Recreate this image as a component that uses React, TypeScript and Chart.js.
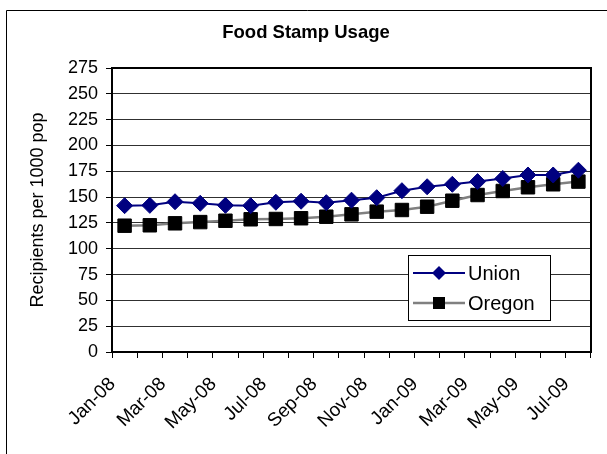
import React, { useEffect, useRef } from 'react';
import { Chart, registerables } from 'chart.js';

Chart.register(...registerables);

const months = [
  'Jan-08', 'Feb-08', 'Mar-08', 'Apr-08', 'May-08', 'Jun-08', 'Jul-08', 'Aug-08', 'Sep-08', 'Oct-08',
  'Nov-08', 'Dec-08', 'Jan-09', 'Feb-09', 'Mar-09', 'Apr-09', 'May-09', 'Jun-09', 'Jul-09',
];
const unionValues = [141.7, 142, 145.5, 144, 142, 141.7, 145, 146, 144.6, 147, 149.4, 156.2, 160, 162.4, 165, 168, 171.4, 171.4, 176];
const oregonValues = [122.3, 122.7, 124.6, 125.8, 127.1, 128.5, 128.8, 129.5, 131, 133.3, 135.9, 137.5, 140.7, 146.5, 152, 155.9, 159.5, 162.4, 165];
const seriesNames = ['Union', 'Oregon'];
const chartTitle = 'Food Stamp Usage';
const yAxisTitle = 'Recipients per 1000 pop';
const yMin = 0;
const yMax = 275;
const yStep = 25;
const labelEvery = 2;

const FONT = "'Liberation Sans', Arial, Helvetica, sans-serif";

function drawMarker(ctx: CanvasRenderingContext2D, style: string, x: number, y: number, r: number, color: string) {
  ctx.save();
  ctx.fillStyle = color;
  ctx.beginPath();
  if (style === 'rectRot') {
    ctx.moveTo(x, y - r);
    ctx.lineTo(x + r, y);
    ctx.lineTo(x, y + r);
    ctx.lineTo(x - r, y);
    ctx.closePath();
  } else {
    ctx.rect(x - r, y - r, 2 * r, 2 * r);
  }
  ctx.fill();
  ctx.restore();
}

export default function App() {
  const ref = useRef<HTMLCanvasElement>(null);

  useEffect(() => {
    const canvas = ref.current;
    if (!canvas) return;

    const decor = {
      id: 'decor',
      beforeDraw(chart: any) {
        const ctx = chart.ctx as CanvasRenderingContext2D;
        ctx.save();
        ctx.fillStyle = '#ffffff';
        ctx.fillRect(0, 0, chart.width, chart.height);
        ctx.strokeStyle = '#000000';
        ctx.lineWidth = 1;
        ctx.beginPath();
        ctx.moveTo(6.5, chart.height + 5);
        ctx.lineTo(6.5, 10.5);
        ctx.lineTo(chart.width + 5, 10.5);
        ctx.stroke();
        ctx.restore();
      },
      afterDraw(chart: any) {
        const ctx = chart.ctx as CanvasRenderingContext2D;
        const ca = chart.chartArea;
        ctx.save();
        // plot-area frame
        ctx.strokeStyle = '#000000';
        ctx.lineWidth = 2;
        ctx.strokeRect(ca.left, ca.top, ca.right - ca.left, ca.bottom - ca.top);
        // legend
        const lx = Math.round(ca.right - 183);
        const ly = Math.round(ca.top + 187);
        const lw = 142;
        const lh = 65;
        ctx.fillStyle = '#ffffff';
        ctx.fillRect(lx, ly, lw, lh);
        ctx.lineWidth = 1;
        ctx.strokeStyle = '#000000';
        ctx.strokeRect(lx + 0.5, ly + 0.5, lw, lh);
        chart.data.datasets.forEach((ds: any, i: number) => {
          const cy = ly + 18 + i * 30;
          ctx.strokeStyle = ds.borderColor;
          ctx.lineWidth = ds.borderWidth;
          ctx.beginPath();
          ctx.moveTo(lx + 5, cy);
          ctx.lineTo(lx + 57, cy);
          ctx.stroke();
          drawMarker(ctx, ds.pointStyle, lx + 31, cy, ds.pointStyle === 'rectRot' ? 7 : 6, ds.pointBackgroundColor);
          ctx.fillStyle = '#000000';
          ctx.font = `20px ${FONT}`;
          ctx.textAlign = 'left';
          ctx.textBaseline = 'middle';
          ctx.fillText(ds.label, lx + 60, cy + 1);
        });
        ctx.restore();
      },
    };

    const chart = new Chart(canvas, {
      type: 'line',
      data: {
        labels: months,
        datasets: [
          {
            label: seriesNames[0],
            data: unionValues,
            borderColor: '#000080',
            borderWidth: 2,
            pointStyle: 'rectRot',
            pointRadius: 8,
            pointBackgroundColor: '#000080',
            pointBorderColor: '#000080',
            pointBorderWidth: 1,
            tension: 0,
          },
          {
            label: seriesNames[1],
            data: oregonValues,
            borderColor: '#808080',
            borderWidth: 2.5,
            pointStyle: 'rect',
            pointRadius: 9.5,
            pointBackgroundColor: '#000000',
            pointBorderColor: '#000000',
            pointBorderWidth: 1,
            tension: 0,
          },
        ],
      },
      options: {
        responsive: false,
        animation: false,
        devicePixelRatio: 1,
        layout: { padding: { left: 21, right: 16, top: 0, bottom: 0 } },
        plugins: {
          legend: { display: false },
          tooltip: { enabled: false },
          title: {
            display: true,
            text: chartTitle,
            color: '#000000',
            font: { family: FONT, size: 18.5, weight: 'bold' },
            padding: { top: 22, bottom: 23.8 },
          },
        },
        scales: {
          x: {
            type: 'category',
            offset: true,
            afterFit: (scale: any) => {
              scale.height = 102;
              scale.paddingLeft = 0;
              scale.paddingRight = 0;
            },
            grid: {
              offset: true,
              drawOnChartArea: false,
              drawTicks: true,
              tickLength: 6,
              tickColor: '#000000',
              tickWidth: 1,
            },
            border: { display: false },
            ticks: {
              autoSkip: false,
              maxRotation: 45,
              minRotation: 45,
              padding: 15,
              labelOffset: -12,
              color: '#000000',
              font: { family: FONT, size: 19 },
              callback: (_v: any, i: number) => (i % labelEvery === 0 ? months[i] : ''),
            },
          },
          y: {
            min: yMin,
            max: yMax,
            afterFit: (scale: any) => {
              scale.width = 91;
            },
            grid: {
              color: '#303030',
              lineWidth: 1,
              drawTicks: true,
              tickLength: 6,
              tickColor: '#000000',
            },
            border: { display: false },
            ticks: {
              stepSize: yStep,
              padding: 8,
              color: '#000000',
              font: { family: FONT, size: 18 },
            },
            title: {
              display: true,
              text: yAxisTitle,
              color: '#000000',
              font: { family: FONT, size: 18 },
              padding: { top: 6, bottom: 0 },
            },
          },
        },
      },
      plugins: [decor],
    });

    return () => chart.destroy();
  }, []);

  return (
    <div style={{ position: 'fixed', left: 0, top: 0, width: 607, height: 454, background: '#ffffff', overflow: 'hidden' }}>
      <canvas ref={ref} width={607} height={454} style={{ display: 'block' }} />
    </div>
  );
}
